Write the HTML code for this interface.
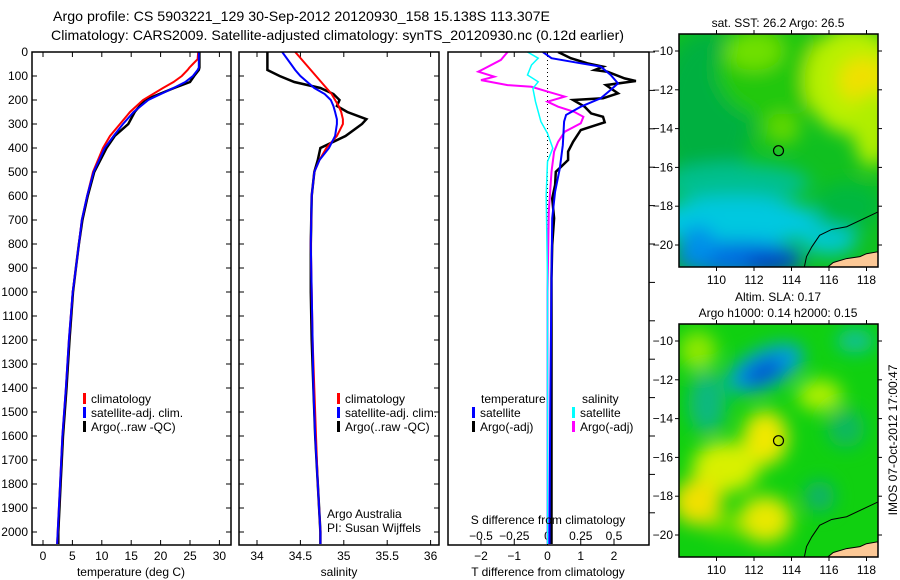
<!DOCTYPE html>
<html><head><meta charset="utf-8">
<style>
html,body{margin:0;padding:0;background:#fff;}
svg{display:block;font-family:"Liberation Sans",sans-serif;}
</style></head>
<body>
<svg id="fig" width="900" height="580" viewBox="0 0 900 580" xmlns="http://www.w3.org/2000/svg">
<defs>
<clipPath id="c1"><rect x="32" y="52" width="199" height="493"/></clipPath>
<clipPath id="c2"><rect x="239" y="52" width="200" height="493"/></clipPath>
<clipPath id="c3"><rect x="448" y="52" width="201" height="493"/></clipPath>
<clipPath id="m1"><rect x="679" y="34" width="199" height="233"/></clipPath>
<clipPath id="m2"><rect x="679" y="324" width="199" height="233"/></clipPath>
<filter id="bl" x="-50%" y="-50%" width="200%" height="200%"><feGaussianBlur stdDeviation="9"/></filter>
</defs>
<text x="53" y="21" font-size="14" textLength="497" lengthAdjust="spacingAndGlyphs">Argo profile: CS 5903221_129 30-Sep-2012 20120930_158 15.138S 113.307E</text>
<text x="51" y="40" font-size="14" textLength="573" lengthAdjust="spacingAndGlyphs">Climatology: CARS2009. Satellite-adjusted climatology: synTS_20120930.nc (0.12d earlier)</text>
<g id="plots"></g>
<g id="maps"></g>
</svg>
<script>
// ---------- data ----------
const tDepth   = [0, 30, 50, 65, 75, 100, 125, 150, 200, 250, 300, 350, 400, 500, 600, 700, 800, 900, 1000, 1200, 1400, 1600, 1800, 2000, 2050];
const tClim    = [26.4, 26.3, 25.5, 24.9, 24.6, 23.6, 22.2, 20.4, 17.0, 14.8, 13.1, 11.4, 10.2, 8.5, 7.5, 6.6, 6.1, 5.6, 5.05, 4.4, 3.9, 3.3, 2.9, 2.5, 2.4];
const tSat     = [26.5, 26.5, 26.5, 26.5, 26.3, 25.5, 24.2, 22.2, 17.9, 15.4, 13.6, 12.0, 10.5, 8.6, 7.5, 6.6, 6.1, 5.6, 5.05, 4.4, 3.9, 3.3, 2.9, 2.5, 2.4];
const tArgo    = [26.6, 26.6, 26.6, 26.6, 26.5, 25.7, 25.0, 22.3, 17.3, 15.6, 14.5, 12.2, 10.8, 8.7, 7.6, 6.7, 6.1, 5.6, 5.1, 4.5, 4.0, 3.4, 3.0, 2.6, 2.6];
const sDepth   = [0, 50, 75, 100, 125, 150, 175, 200, 225, 250, 280, 300, 350, 400, 450, 500, 600, 800, 1000, 1200, 1400, 1600, 1800, 2000, 2050];
const sClim    = [34.44, 34.56, 34.62, 34.68, 34.74, 34.80, 34.86, 34.90, 34.94, 34.97, 34.99, 34.99, 34.92, 34.80, 34.72, 34.66, 34.63, 34.62, 34.63, 34.64, 34.66, 34.68, 34.70, 34.73, 34.73];
const sSat     = [34.29, 34.39, 34.44, 34.50, 34.58, 34.66, 34.78, 34.85, 34.88, 34.90, 34.92, 34.92, 34.90, 34.83, 34.72, 34.66, 34.63, 34.62, 34.63, 34.64, 34.65, 34.67, 34.70, 34.73, 34.73];
const sArgo    = [34.12, 34.12, 34.12, 34.26, 34.43, 34.73, 34.88, 34.95, 34.92, 35.04, 35.26, 35.21, 35.02, 34.73, 34.70, 34.66, 34.63, 34.62, 34.62, 34.63, 34.65, 34.67, 34.70, 34.73, 34.73];
const dTDepth  = [0, 26, 47, 61, 96, 131, 158, 193, 228, 262, 290, 388, 485, 582, 693, 943, 1500, 2050];
const dTSat    = [-0.14, 0.12, 1.0, 1.6, 1.9, 2.12, 1.9, 1.6, 1.0, 0.56, 0.5, 0.46, 0.37, 0.23, 0.14, 0.12, 0.08, 0.06];
const dTADepth = [0, 26, 47, 61, 75, 82, 110, 121, 138, 172, 193, 200, 228, 256, 270, 293, 325, 374, 415, 450, 499, 554, 610, 693, 804, 943, 1500, 2050];
const dTArgo   = [0.32, 0.7, 1.2, 1.67, 1.42, 1.8, 2.32, 2.66, 1.76, 2.12, 1.67, 0.77, 1.12, 1.31, 1.67, 1.72, 1.0, 0.77, 0.62, 0.62, 0.25, 0.23, 0.14, 0.2, 0.14, 0.12, 0.12, 0.12];
const dSADepth = [0, 33, 68, 82, 103, 117, 138, 145, 165, 186, 207, 228, 249, 270, 297, 332, 374, 415, 499, 665, 1000, 2050];
const dSArgo   = [-0.3, -0.35, -0.47, -0.52, -0.4, -0.5, -0.3, -0.12, 0, 0.13, 0, 0.08, 0.2, 0.27, 0.25, 0.13, 0.08, 0.05, 0.03, 0.01, 0, 0];
const dSSDepth = [0, 26, 54, 96, 124, 152, 207, 290, 339, 401, 457, 596, 943, 2050];
const dSSat    = [-0.15, -0.07, -0.12, -0.15, -0.07, -0.11, -0.09, -0.05, 0, 0.04, 0, -0.01, 0, 0];
const depthTicks = [0,100,200,300,400,500,600,700,800,900,1000,1100,1200,1300,1400,1500,1600,1700,1800,1900,2000];
const tTicks = [0,5,10,15,20,25,30];
const sTicks = [34,34.5,35,35.5,36];
const dTTicks = [-2,-1,0,1,2];
const dSTicks = [-0.5,-0.25,0,0.25,0.5];
const lonTicks = [110,112,114,116,118];
const latTicks = [-10,-12,-14,-16,-18,-20];
const argoLon = 113.307, argoLat = -15.138;

// ---------- axes ----------
const NS='http://www.w3.org/2000/svg';
const yD = d => 52 + d*0.24;
const xT = t => 43 + t*5.88;
const xS = s => 257 + (s-34)*86.8;
const xdT = t => 547.5 + t*33.25;
const xdS = s => 547.5 + s*133;
const mx = lon => 679 + (lon-108)*18.75;
const my1 = lat => 51 + (-10-lat)*19.4;
const my2 = lat => 341 + (-10-lat)*19.4;

function mk(tag, attrs, parent){const e=document.createElementNS(NS,tag);for(const k in attrs)e.setAttribute(k,attrs[k]);parent.appendChild(e);return e;}
function txt(parent,x,y,s,anchor,size){const e=mk('text',{x:x,y:y,'font-size':size||12,'text-anchor':anchor||'start'},parent);e.textContent=s;return e;}
function fmt(v){return String(v).replace('-','\u2212');}

const plots=document.getElementById('plots');
function line(parent,xs,ds,xf,color,w,clip,name){
  const pts=ds.map((d,i)=>xf(xs[i]).toFixed(1)+','+yD(d).toFixed(1)).join(' ');
  const p=mk('polyline',{points:pts,fill:'none',stroke:color,'stroke-width':w,'stroke-linejoin':'miter','clip-path':'url(#'+clip+')'},parent);
  
  
}
function box(parent,x,w,name){
  const r=mk('rect',{x:x,y:52,width:w,height:493,fill:'none',stroke:'#000','stroke-width':1.5},parent);
  
  
}
function yTicksInner(parent,x0,x1){
  depthTicks.forEach(d=>{mk('line',{x1:x0,y1:yD(d),x2:x0+5,y2:yD(d),stroke:'#000'},parent);mk('line',{x1:x1,y1:yD(d),x2:x1-5,y2:yD(d),stroke:'#000'},parent);});
}
function xTicks(parent,ticks,xf,labelY){
  ticks.forEach(t=>{const x=xf(t);mk('line',{x1:x,y1:545,x2:x,y2:540,stroke:'#000'},parent);mk('line',{x1:x,y1:52,x2:x,y2:57,stroke:'#000'},parent);
    const l=txt(parent,x,labelY,fmt(t),'middle',12);
    
    
  });
}
function legendEntry(parent,x,y,color,label){
  const g=mk('g',{},parent);
  
  
  mk('rect',{x:x,y:y-10,width:3,height:11,fill:color},g);
  txt(g,x+8,y,label,'start',12);
}

// panel 1 temperature
const g1=mk('g',{},plots);


yTicksInner(g1,32,231);
depthTicks.forEach(d=>{const l=txt(g1,28,yD(d)+4,String(d),'end',12);
  
  });
xTicks(g1,tTicks,xT,560);
line(g1,tArgo,tDepth,xT,'#000',2.5,'c1','temperature-argo-line');
line(g1,tClim,tDepth,xT,'#ff0000',2,'c1','temperature-climatology-line');
line(g1,tSat,tDepth,xT,'#0000ff',2,'c1','temperature-satellite-line');
box(g1,32,199,'temperature-plot-frame');
legendEntry(g1,83,403,'#ff0000','climatology');
legendEntry(g1,83,417,'#0000ff','satellite-adj. clim.');
legendEntry(g1,83,431,'#000','Argo(..raw -QC)');
const xl1=txt(g1,131,576,'temperature (deg C)','middle',12);



// panel 2 salinity
const g2=mk('g',{},plots);


yTicksInner(g2,239,439);
xTicks(g2,sTicks,xS,560);
line(g2,sArgo,sDepth,xS,'#000',2.5,'c2','salinity-argo-line');
line(g2,sClim,sDepth,xS,'#ff0000',2,'c2','salinity-climatology-line');
line(g2,sSat,sDepth,xS,'#0000ff',2,'c2','salinity-satellite-line');
box(g2,239,200,'salinity-plot-frame');
legendEntry(g2,337,403,'#ff0000','climatology');
legendEntry(g2,337,417,'#0000ff','satellite-adj. clim.');
legendEntry(g2,337,431,'#000','Argo(..raw -QC)');
txt(g2,327,518,'Argo Australia','start',12);
txt(g2,327,532,'PI: Susan Wijffels','start',12);
const xl2=txt(g2,339,576,'salinity','middle',12);



// panel 3 differences
const g3=mk('g',{},plots);


for(let y=52;y<=545;y+=38.4){mk('line',{x1:649,y1:y,x2:655,y2:y,stroke:'#000'},g3);}
mk('line',{x1:547.5,y1:52,x2:547.5,y2:545,stroke:'#000','stroke-dasharray':'1,3','stroke-width':1},g3);
xTicks(g3,dTTicks,xdT,560);
dSTicks.forEach(s=>{const l=txt(g3,xdS(s),540,fmt(s),'middle',12);
  
  });
line(g3,dTArgo,dTADepth,xdT,'#000',2.5,'c3','t-diff-argo-line');
line(g3,dSArgo,dSADepth,xdS,'#ff00ff',2,'c3','s-diff-argo-line');
line(g3,dSSat,dSSDepth,xdS,'#00ffff',1.5,'c3','s-diff-satellite-line');
line(g3,dTSat,dTDepth,xdT,'#0000ff',2,'c3','t-diff-satellite-line');
box(g3,448,201,'difference-plot-frame');
txt(g3,481,403,'temperature','start',12);
legendEntry(g3,472,417,'#0000ff','satellite');
legendEntry(g3,472,431,'#000','Argo(-adj)');
txt(g3,582,403,'salinity','start',12);
legendEntry(g3,572,417,'#00ffff','satellite');
legendEntry(g3,572,431,'#ff00ff','Argo(-adj)');
txt(g3,548,524,'S difference from climatology','middle',12);
txt(g3,548,576,'T difference from climatology','middle',12);

// ---------- maps ----------
const maps=document.getElementById('maps');
function mapFrame(g,y0,my){
  const r=mk('rect',{x:679,y:y0,width:199,height:233,fill:'none',stroke:'#000','stroke-width':1.5},g);
  lonTicks.forEach(l=>{const x=mx(l);mk('line',{x1:x,y1:y0,x2:x,y2:y0-4,stroke:'#000'},g);mk('line',{x1:x,y1:y0+233,x2:x,y2:y0+237,stroke:'#000'},g);
    const t=txt(g,x,y0+250,String(l),'middle',12);
    
    });
  latTicks.forEach(l=>{const y=my(l);mk('line',{x1:679,y1:y,x2:675,y2:y,stroke:'#000'},g);mk('line',{x1:878,y1:y,x2:882,y2:y,stroke:'#000'},g);
    const t=txt(g,673,y+4,fmt(l),'end',12);
    
    });
  const c=mk('circle',{cx:mx(argoLon),cy:my(argoLat),r:5,fill:'none',stroke:'#000','stroke-width':1.2},g);
  
  
}
function coast(g,my,clip){
  const cl=[[118.6,-18.3],[116.94,-19.06],[116.14,-19.2],[115.5,-19.5],[115.08,-20.1],[114.8,-20.6],[114.67,-21.2]];
  const land=[[115.85,-21.2],[116.23,-20.9],[116.94,-20.7],[117.65,-20.6],[118.0,-20.45],[118.6,-20.35],[118.7,-21.2]];
  const p=mk('polygon',{points:land.map(a=>mx(a[0])+','+my(a[1])).join(' '),fill:'#fcc896',stroke:'#000','stroke-width':1,'clip-path':'url(#'+clip+')'},g);
  
  
  const l=mk('polyline',{points:cl.map(a=>mx(a[0])+','+my(a[1])).join(' '),fill:'none',stroke:'#000','stroke-width':1,'clip-path':'url(#'+clip+')'},g);
  
  
}
function blobs(g,my,list,clip){
  const gg=mk('g',{'clip-path':'url(#'+clip+')'},g);
  const inner=mk('g',{filter:'url(#bl)'},gg);
  list.forEach(b=>{mk('ellipse',{cx:mx(b[0]),cy:my(b[1]),rx:b[2]*18.75,ry:b[3]*19.4,fill:b[4],transform:'rotate('+(b[5]||0)+' '+mx(b[0])+' '+my(b[1])+')'},inner);});
}
// map 1: SST
const gm1=mk('g',{},maps);


mk('rect',{x:679,y:34,width:199,height:233,fill:'#10c020'},gm1);
blobs(gm1,my1,[
 [109.5,-13,2.5,4,'#00b040'],[113,-11,3,2.5,'#20c810'],[112,-10,1.5,1,'#70e000'],
 [117.3,-11.5,2.6,2.8,'#b8f000'],[117.8,-11.5,1.3,1.2,'#f0e000'],[118.3,-14,1,2,'#b0ee00'],
 [113.5,-14,1,0.8,'#60d800'],
 [111,-16.8,4,1,'#00c090'],[111,-18.8,4.5,1.3,'#00c8e0'],[116,-19.7,1.5,0.8,'#00c8d0'],
 [111.2,-20.7,3.5,0.9,'#0070e0'],[113,-20.9,1.5,0.5,'#0040c0'],[109,-20,1,1,'#0090e8'],
 [117,-18,1.8,1.2,'#00b840']
],'m1');
coast(gm1,my1,'m1');
mapFrame(gm1,34,my1);
txt(gm1,778,27,'sat. SST: 26.2 Argo: 26.5','middle',12);

// map 2: SLA
const gm2=mk('g',{},maps);


mk('rect',{x:679,y:324,width:199,height:233,fill:'#10d010'},gm2);
blobs(gm2,my2,[
 [109,-10.5,1,1,'#90e800'],[109.5,-13.2,1,1.6,'#10b880'],[112.6,-11.4,2.2,1.0,'#00a0e0',-25],
 [112.5,-11.6,1.2,0.55,'#0050d0',-25],[117.4,-10,1,0.6,'#10c0a0'],[115.5,-12.8,1.2,0.8,'#b0f000'],
 [112.6,-15,1.2,1.4,'#f0e800'],[110.5,-16.5,1.8,1.3,'#d8f000'],[109,-18.3,1.3,1.2,'#f0e000'],
 [112.6,-19.2,1.4,1.2,'#e8e800'],[110.5,-19.5,1,0.6,'#60e000'],
 [115.5,-18,0.8,0.8,'#10b070'],[116.9,-14.5,1,1,'#10b860']
],'m2');
coast(gm2,my2,'m2');
mapFrame(gm2,324,my2);
txt(gm2,778,301,'Altim. SLA: 0.17','middle',12);
txt(gm2,778,317,'Argo h1000: 0.14 h2000: 0.15','middle',12);
const stamp=txt(gm2,0,0,'IMOS 07-Oct-2012 17:00:47','middle',12);
stamp.setAttribute('transform','translate(897,440) rotate(-90)');


</script>
</body></html>
